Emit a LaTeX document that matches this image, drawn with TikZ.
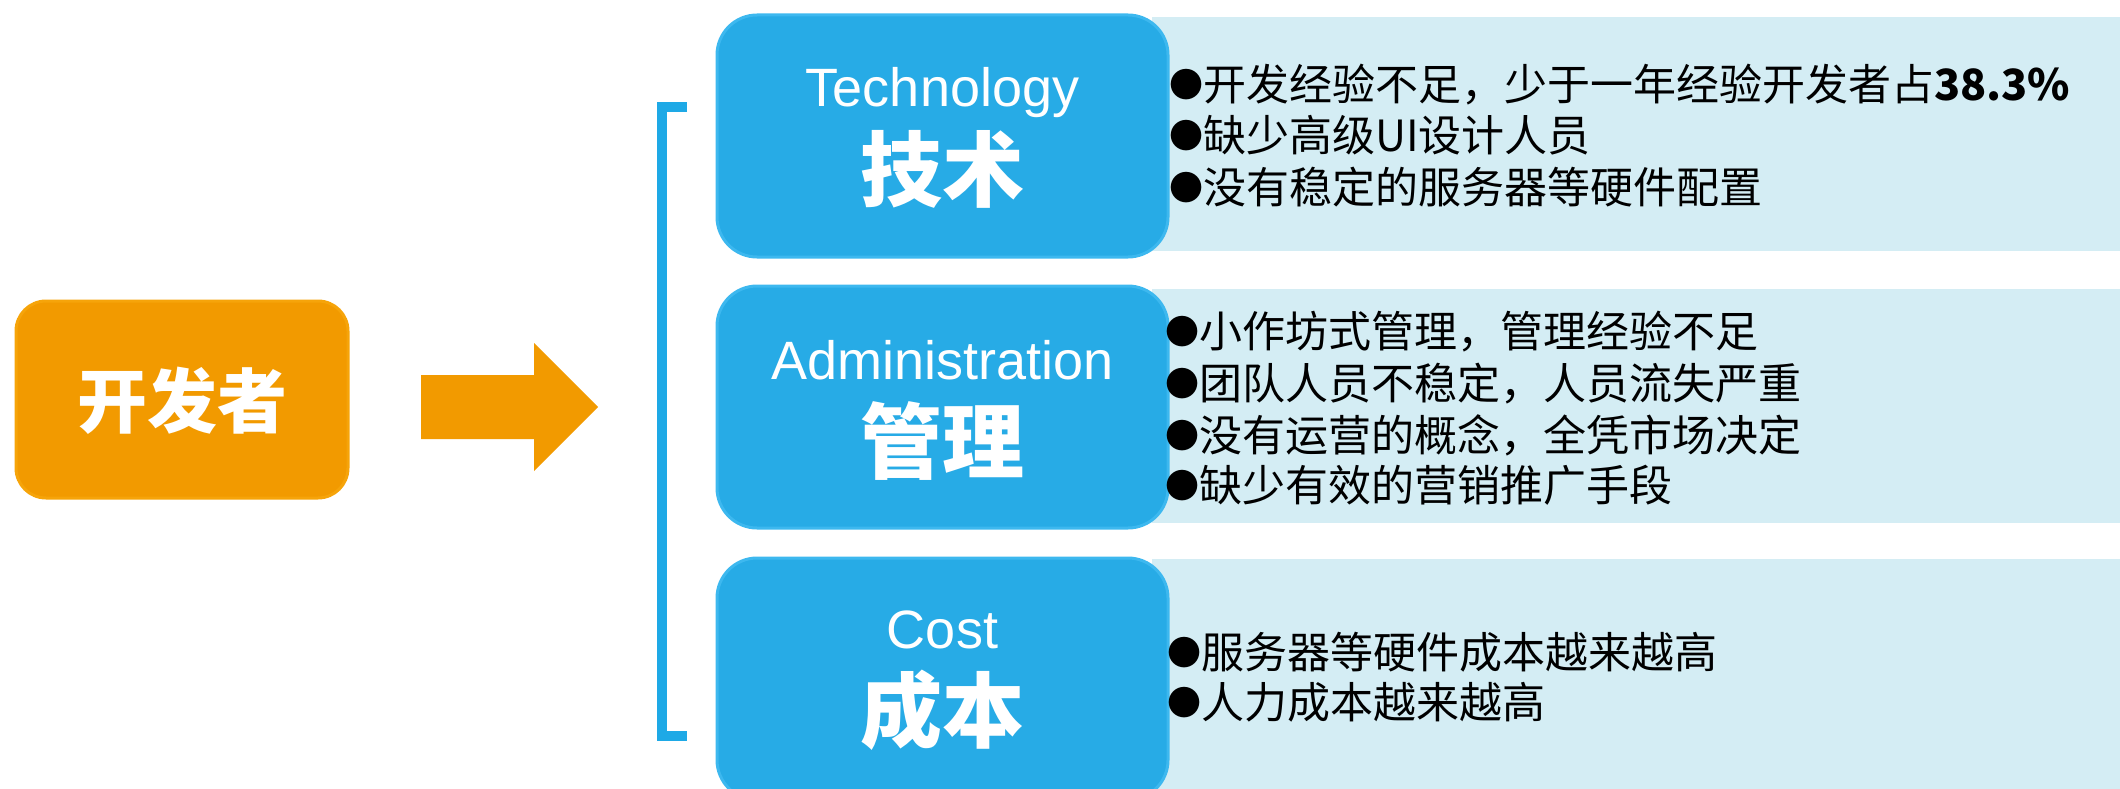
\documentclass[tikz,border=0pt]{standalone}
\usepackage{fontspec}
\setmainfont{Liberation Sans}
\newfontfamily\cjk{Noto Sans CJK SC}
\definecolor{boxblue}{HTML}{27ABE6}
\definecolor{boxblueL}{HTML}{3DB8EF}
\definecolor{panelblue}{HTML}{D4EDF4}
\definecolor{orng}{HTML}{F29A00}
\definecolor{orngL}{HTML}{F6A40A}
\definecolor{brk}{HTML}{1EA9E6}
\newcommand\bul{\raisebox{3pt}{\fontsize{34}{40}\selectfont ●}}
\begin{document}
\begin{tikzpicture}[x=1pt,y=-1pt,
  catbox/.style={fill=boxblue, draw=boxblueL, line width=3pt, rounded corners=40pt, minimum width=451pt, minimum height=242pt, inner sep=0pt},
  panelbox/.style={fill=panelblue, draw=none, minimum width=968pt, inner sep=0pt},
  entitle/.style={anchor=base, inner sep=0pt, text=white, font=\fontsize{54}{60}\selectfont},
  cntitle/.style={anchor=base, inner sep=0pt, text=white, font=\cjk\bfseries\fontsize{82}{90}\selectfont},
  ptext/.style={anchor=base west, inner sep=0pt, font=\cjk\fontsize{43}{51}\selectfont}]
\useasboundingbox (0,0) rectangle (2120,789);
% panels
\node[panelbox, minimum height=234pt] (pan1) at (1636,134) {};
\node[panelbox, minimum height=234pt] (pan2) at (1636,406) {};
\node[panelbox, minimum height=241pt] (pan3) at (1636,679.5) {};
% category boxes
\node[catbox] (tech) at (942.5,136) {};
\node[catbox] (admin) at (942.5,407) {};
\node[catbox] (cost) at (942.5,679) {};
\node[entitle] (techen) at (942.5,107) {Technology};
\node[cntitle] (techcn) at (942.5,200) {技术};
\node[entitle] (adminen) at (942.5,379) {Administration};
\node[cntitle] (admincn) at (942.5,472) {管理};
\node[entitle] (costen) at (942.5,648) {Cost};
\node[cntitle] (costcn) at (942.5,741) {成本};
% developer box
\node[fill=orng, draw=orngL, line width=3pt, rounded corners=30pt, minimum width=332pt, minimum height=197pt, inner sep=0pt] (dev) at (182,399.5) {};
\node[anchor=base, inner sep=0pt, text=white, font=\cjk\bfseries\fontsize{70}{76}\selectfont] (devt) at (182,427) {开发者};
% block arrow
\fill[orng] (421,375) -- (534,375) -- (534,343) -- (598,407) -- (534,471) -- (534,439) -- (421,439) -- cycle;
% bracket
\draw[brk, line width=10pt] (687,107) -- (662,107) -- (662,736) -- (687,736);
% panel texts
\node[ptext] (t1) at (1169,101) {\bul 开发经验不足，少于一年经验开发者占\textbf{38.3\%}};
\node[ptext] (t2) at (1169,152) {\bul 缺少高级UI设计人员};
\node[ptext] (t3) at (1169,203) {\bul 没有稳定的服务器等硬件配置};
\node[ptext] (a1) at (1165,347) {\bul 小作坊式管理，管理经验不足};
\node[ptext] (a2) at (1165,399) {\bul 团队人员不稳定，人员流失严重};
\node[ptext] (a3) at (1165,451) {\bul 没有运营的概念，全凭市场决定};
\node[ptext] (a4) at (1165,501) {\bul 缺少有效的营销推广手段};
\node[ptext] (c1) at (1167,668) {\bul 服务器等硬件成本越来越高};
\node[ptext] (c2) at (1167,718) {\bul 人力成本越来越高};
\end{tikzpicture}
\end{document}
